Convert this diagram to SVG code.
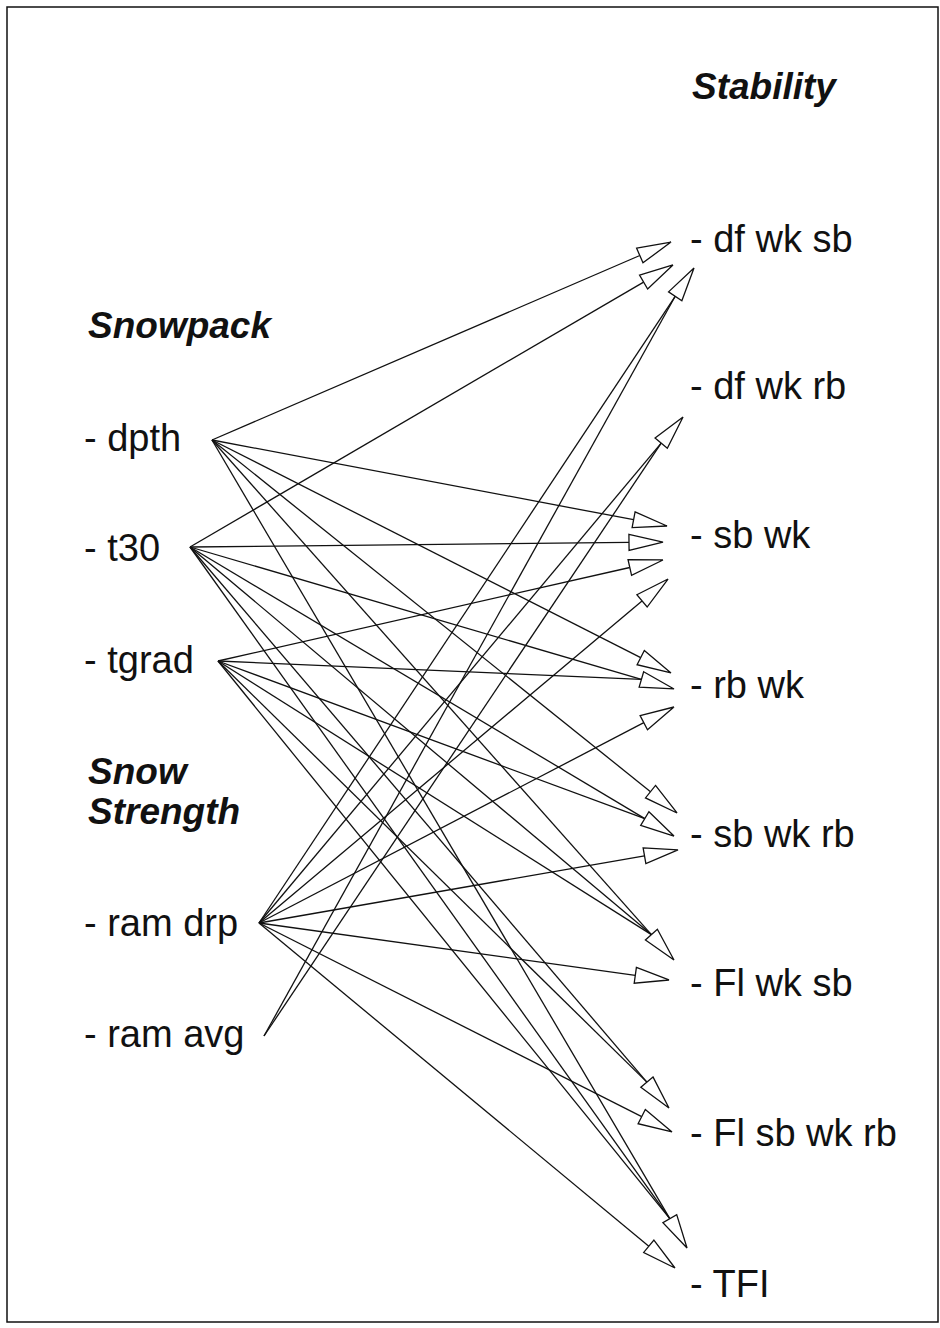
<svg xmlns="http://www.w3.org/2000/svg" width="940" height="1328" viewBox="0 0 940 1328">
  <style>
    .frame { fill: none; stroke: #111; stroke-width: 1.5; }
    .lbl { font-family: "Liberation Sans", Arial, sans-serif; font-size: 38px; fill: #111; }
    .head { font-family: "Liberation Sans", Arial, sans-serif; font-size: 37px; font-weight: bold; font-style: italic; fill: #111; }
    .edge { fill: none; stroke: #111; stroke-width: 1.3; }
    .arr { marker-end: url(#open); }
  </style>
  <defs>
    <!-- open triangular head; its base sits on the line end -->
    <marker id="open" markerUnits="userSpaceOnUse" viewBox="-2 -10 38 20" markerWidth="38" markerHeight="20" refX="0" refY="0" orient="auto" overflow="visible">
      <path d="M0,-8 L34,0 L0,8 Z" fill="#fff" stroke="#111" stroke-width="1.3" stroke-linejoin="miter"/>
    </marker>
  </defs>

  <rect class="frame" x="7" y="7" width="931" height="1315"/>

  <!-- headings -->
  <g id="head-stability"><text class="head" x="692" y="99">Stability</text></g>
  <g id="head-snowpack"><text class="head" x="88" y="338">Snowpack</text></g>
  <g id="head-strength"><text class="head" x="88" y="784">Snow</text><text class="head" x="88" y="824">Strength</text></g>

  <!-- input nodes -->
  <g id="n-dpth"><text class="lbl" x="84" y="451">- dpth</text></g>
  <g id="n-t30"><text class="lbl" x="84" y="561">- t30</text></g>
  <g id="n-tgrad"><text class="lbl" x="84" y="673">- tgrad</text></g>
  <g id="n-ramdrp"><text class="lbl" x="84" y="936">- ram drp</text></g>
  <g id="n-ramavg"><text class="lbl" x="84" y="1047">- ram avg</text></g>

  <!-- stability classes -->
  <g id="s-dfwksb"><text class="lbl" x="690" y="252">- df wk sb</text></g>
  <g id="s-dfwkrb"><text class="lbl" x="690" y="399">- df wk rb</text></g>
  <g id="s-sbwk"><text class="lbl" x="690" y="548">- sb wk</text></g>
  <g id="s-rbwk"><text class="lbl" x="690" y="698">- rb wk</text></g>
  <g id="s-sbwkrb"><text class="lbl" x="690" y="847">- sb wk rb</text></g>
  <g id="s-flwksb"><text class="lbl" x="690" y="996">- Fl wk sb</text></g>
  <g id="s-flsbwkrb"><text class="lbl" x="690" y="1146">- Fl sb wk rb</text></g>
  <g id="s-tfi"><text class="lbl" x="690" y="1297">- TFI</text></g>

  <g id="connectors">
    <!-- lines that share a head with another line -->
    <line class="edge" x1="264" y1="1036" x2="675.2" y2="296.3"/>
    <line class="edge" x1="264" y1="1036" x2="661.2" y2="443.1"/>
    <line class="edge" x1="218" y1="661" x2="641.4" y2="679.4"/>
    <line class="edge" x1="218" y1="661" x2="644.8" y2="818.6"/>
    <line class="edge" x1="190" y1="547" x2="651.4" y2="934.6"/>
    <line class="edge" x1="218" y1="661" x2="651.4" y2="934.6"/>
    <line class="edge" x1="218" y1="661" x2="646.9" y2="1082.1"/>
    <line class="edge" x1="190" y1="547" x2="669.8" y2="1218.7"/>
    <line class="edge" x1="218" y1="661" x2="669.8" y2="1218.7"/>

    <!-- lines carrying the heads -->
    <line class="edge arr" x1="212" y1="440" x2="639.8" y2="255.5"/>
    <line class="edge arr" x1="190" y1="547" x2="643.6" y2="282.1"/>
    <line class="edge arr" x1="259" y1="923" x2="675.2" y2="296.3"/>
    <line class="edge arr" x1="259" y1="923" x2="661.2" y2="443.1"/>
    <line class="edge arr" x1="212" y1="440" x2="633.6" y2="519.7"/>
    <line class="edge arr" x1="190" y1="547" x2="629" y2="542.4"/>
    <line class="edge arr" x1="218" y1="661" x2="629.8" y2="567.5"/>
    <line class="edge arr" x1="259" y1="923" x2="642" y2="600.9"/>
    <line class="edge arr" x1="212" y1="440" x2="640.7" y2="657.6"/>
    <line class="edge arr" x1="190" y1="547" x2="641.4" y2="679.4"/>
    <line class="edge arr" x1="259" y1="923" x2="643.8" y2="722.7"/>
    <line class="edge arr" x1="212" y1="440" x2="650.5" y2="791.7"/>
    <line class="edge arr" x1="190" y1="547" x2="644.8" y2="818.6"/>
    <line class="edge arr" x1="259" y1="923" x2="644.5" y2="855.8"/>
    <line class="edge arr" x1="212" y1="440" x2="651.4" y2="934.6"/>
    <line class="edge arr" x1="259" y1="923" x2="635.3" y2="975.3"/>
    <line class="edge arr" x1="190" y1="547" x2="646.9" y2="1082.1"/>
    <line class="edge arr" x1="259" y1="923" x2="641.7" y2="1116.6"/>
    <line class="edge arr" x1="212" y1="440" x2="669.8" y2="1218.7"/>
    <line class="edge arr" x1="259" y1="923" x2="648.8" y2="1246.3"/>
  </g>
</svg>
